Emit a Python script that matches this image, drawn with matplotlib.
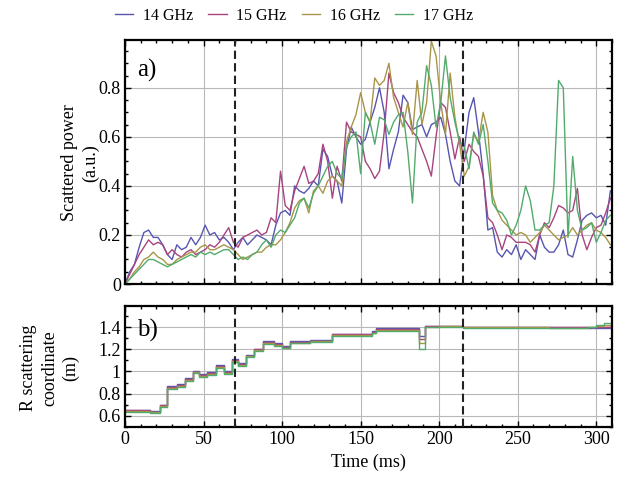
import numpy as np
import matplotlib
matplotlib.use("Agg")
import matplotlib.pyplot as plt
from matplotlib.ticker import MultipleLocator, FuncFormatter

plt.rcParams["font.family"] = ["Liberation Serif", "DejaVu Serif"]
plt.rcParams["mathtext.fontset"] = "stix"

# ---- data -----------------------------------------------------------------
labels = ["14 GHz", "15 GHz", "16 GHz", "17 GHz"]
colors = ["#5656B2", "#A8437F", "#A89548", "#52AB6C"]

# scattered power, sampled every 3 ms (0 .. 309 ms)
time_power = np.arange(0, 310, 3)

power_14 = [
    0.00, 0.05, 0.08, 0.15, 0.21, 0.22, 0.19, 0.19, 0.16, 0.12,
    0.10, 0.16, 0.14, 0.15, 0.19, 0.16, 0.19, 0.24, 0.20, 0.21,
    0.18, 0.19, 0.17, 0.14, 0.17, 0.19, 0.16, 0.18, 0.20, 0.19,
    0.18, 0.16, 0.24, 0.29, 0.30, 0.28, 0.40, 0.38, 0.37, 0.39,
    0.42, 0.40, 0.55, 0.52, 0.44, 0.42, 0.33, 0.55, 0.64, 0.60,
    0.57, 0.59, 0.66, 0.72, 0.80, 0.70, 0.47, 0.55, 0.62, 0.77,
    0.74, 0.63, 0.64, 0.65, 0.60, 0.65, 0.66, 0.68, 0.61, 0.50,
    0.42, 0.40, 0.55, 0.70, 0.76, 0.62, 0.45, 0.22, 0.23, 0.13,
    0.11, 0.14, 0.12, 0.16, 0.10, 0.14, 0.12, 0.10, 0.20, 0.15,
    0.13, 0.13, 0.16, 0.22, 0.12, 0.11, 0.18, 0.26, 0.28, 0.29,
    0.27, 0.28, 0.24, 0.38,
]
power_15 = [
    0.00, 0.04, 0.08, 0.12, 0.15, 0.18, 0.16, 0.17, 0.16, 0.12,
    0.14, 0.12, 0.11, 0.13, 0.14, 0.12, 0.13, 0.14, 0.16, 0.15,
    0.17, 0.20, 0.23, 0.17, 0.15, 0.19, 0.20, 0.21, 0.22, 0.20,
    0.21, 0.27, 0.25, 0.46, 0.32, 0.30, 0.38, 0.43, 0.48, 0.41,
    0.42, 0.45, 0.57, 0.50, 0.35, 0.48, 0.42, 0.66, 0.62, 0.61,
    0.60, 0.50, 0.47, 0.43, 0.46, 0.62, 0.86, 0.78, 0.74, 0.68,
    0.65, 0.62, 0.60, 0.55, 0.50, 0.44, 0.60, 0.74, 0.72, 0.62,
    0.51, 0.60, 0.50, 0.57, 0.54, 0.52, 0.44, 0.27, 0.25, 0.20,
    0.14, 0.20, 0.19, 0.17, 0.17, 0.17, 0.16, 0.13, 0.20, 0.25,
    0.23, 0.27, 0.32, 0.31, 0.29, 0.30, 0.39, 0.20, 0.14, 0.19,
    0.23, 0.24, 0.29, 0.35,
]
power_16 = [
    0.00, 0.02, 0.05, 0.07, 0.10, 0.11, 0.13, 0.11, 0.10, 0.08,
    0.08, 0.10, 0.11, 0.12, 0.13, 0.13, 0.15, 0.16, 0.14, 0.14,
    0.15, 0.16, 0.15, 0.14, 0.12, 0.10, 0.11, 0.12, 0.13, 0.13,
    0.15, 0.16, 0.16, 0.18, 0.21, 0.25, 0.31, 0.34, 0.35, 0.29,
    0.38, 0.40, 0.37, 0.42, 0.44, 0.42, 0.40, 0.58, 0.64, 0.69,
    0.78, 0.70, 0.66, 0.84, 0.81, 0.83, 0.90, 0.76, 0.70, 0.64,
    0.74, 0.61, 0.83, 0.65, 0.74, 0.99, 0.93, 0.74, 0.61, 0.86,
    0.68, 0.57, 0.44, 0.48, 0.61, 0.58, 0.70, 0.62, 0.36, 0.30,
    0.26, 0.24, 0.22, 0.20, 0.21, 0.20, 0.17, 0.19, 0.21, 0.24,
    0.22, 0.20, 0.18, 0.19, 0.20, 0.23, 0.20, 0.22, 0.24, 0.25,
    0.22, 0.21, 0.19, 0.16,
]
power_17 = [
    0.00, 0.02, 0.04, 0.06, 0.08, 0.10, 0.10, 0.09, 0.08, 0.07,
    0.08, 0.09, 0.10, 0.11, 0.12, 0.11, 0.13, 0.12, 0.13, 0.12,
    0.13, 0.14, 0.14, 0.12, 0.10, 0.11, 0.10, 0.12, 0.13, 0.16,
    0.18, 0.15, 0.20, 0.22, 0.21, 0.24, 0.27, 0.33, 0.35, 0.31,
    0.37, 0.40, 0.44, 0.48, 0.50, 0.45, 0.43, 0.56, 0.60, 0.62,
    0.45, 0.70, 0.66, 0.57, 0.68, 0.67, 0.61, 0.66, 0.69, 0.70,
    0.54, 0.33, 0.66, 0.70, 0.89, 0.81, 0.64, 0.74, 0.93, 0.76,
    0.66, 0.58, 0.56, 0.47, 0.62, 0.57, 0.65, 0.50, 0.33, 0.30,
    0.29, 0.26, 0.20, 0.24, 0.30, 0.40, 0.34, 0.22, 0.22, 0.24,
    0.25, 0.40, 0.83, 0.80, 0.19, 0.52, 0.30, 0.22, 0.23, 0.25,
    0.17, 0.21, 0.26, 0.28,
]

# R scattering coordinate: step breakpoints (ms) and levels (m)
time_r = [0, 16, 22, 27, 33, 38, 43, 47, 52, 58, 63, 68, 72, 77, 82, 88, 95,
          100, 105, 118, 132, 157, 160, 187, 191, 200, 215, 270, 295, 300,
          305, 310]
r_14 = [0.657, 0.647, 0.702, 0.867, 0.887, 0.942, 1.007, 0.977, 0.992,
        1.057, 1.002, 1.112, 1.072, 1.152, 1.207, 1.272, 1.257, 1.232,
        1.277, 1.287, 1.342, 1.367, 1.392, 1.320, 1.412, 1.412, 1.405,
        1.400, 1.395, 1.392, 1.390, 1.390]
r_15 = [0.649, 0.639, 0.694, 0.859, 0.879, 0.934, 0.999, 0.969, 0.984,
        1.049, 0.994, 1.104, 1.064, 1.144, 1.199, 1.264, 1.249, 1.224,
        1.269, 1.279, 1.334, 1.359, 1.384, 1.290, 1.408, 1.410, 1.402,
        1.398, 1.398, 1.400, 1.405, 1.410]
r_16 = [0.641, 0.631, 0.686, 0.851, 0.871, 0.926, 0.991, 0.961, 0.976,
        1.041, 0.986, 1.096, 1.056, 1.136, 1.191, 1.256, 1.241, 1.216,
        1.261, 1.271, 1.326, 1.351, 1.376, 1.255, 1.404, 1.406, 1.398,
        1.395, 1.400, 1.410, 1.420, 1.430]
r_17 = [0.633, 0.623, 0.678, 0.843, 0.863, 0.918, 0.983, 0.953, 0.968,
        1.033, 0.978, 1.088, 1.048, 1.128, 1.183, 1.248, 1.233, 1.208,
        1.253, 1.263, 1.318, 1.343, 1.368, 1.200, 1.400, 1.402, 1.395,
        1.392, 1.405, 1.420, 1.435, 1.450]

event_times = [70, 215]

power_series = [power_14, power_15, power_16, power_17]
r_series = [r_14, r_15, r_16, r_17]

# ---- figure ---------------------------------------------------------------
fig = plt.figure(figsize=(6.26, 4.87), dpi=100)
ax1 = fig.add_axes([0.1997, 0.4168, 0.7779, 0.5011])
ax2 = fig.add_axes([0.1997, 0.1232, 0.7779, 0.2485])

fmt = FuncFormatter(lambda v, p: "%g" % round(v, 2))

for ax in (ax1, ax2):
    ax.set_xlim(0, 310)
    ax.grid(True, color="#b8b8b8", lw=0.8)
    ax.set_axisbelow(True)
    ax.xaxis.set_major_locator(MultipleLocator(50))
    ax.xaxis.set_minor_locator(MultipleLocator(10))
    ax.tick_params(which="both", direction="in", top=True, right=True,
                   labelsize=13, pad=3)
    ax.tick_params(which="major", length=4, width=1.0)
    ax.tick_params(which="minor", length=2.5, width=1.0)
    for s in ax.spines.values():
        s.set_linewidth(1.6)
    ax.yaxis.set_major_formatter(fmt)
    for t in event_times:
        ax.axvline(t, color="#222222", lw=1.5, ls=(0, (4, 2)), zorder=5)

for vals, c, lab in zip(power_series, colors, labels):
    ax1.plot(time_power, vals, color=c, lw=1.0, label=lab)
ax1.set_ylim(0, 0.995)
ax1.yaxis.set_major_locator(MultipleLocator(0.2))
ax1.yaxis.set_minor_locator(MultipleLocator(0.05))
ax1.tick_params(labelbottom=False)
ax1.text(0.025, 0.875, "a)", transform=ax1.transAxes, fontsize=18,
         va="center", ha="left")

for vals, c in zip(r_series, colors):
    ax2.plot(time_r, vals, color=c, lw=1.0, drawstyle="steps-post")
ax2.set_ylim(0.5, 1.59)
ax2.yaxis.set_major_locator(MultipleLocator(0.2))
ax2.yaxis.set_minor_locator(MultipleLocator(0.1))
ax2.xaxis.set_major_formatter(fmt)
ax2.text(0.025, 0.80, "b)", transform=ax2.transAxes, fontsize=18,
         va="center", ha="left")
ax2.set_xlabel("Time (ms)", fontsize=13, labelpad=4)

fig.text(80 / 626, 1 - 163 / 487, "Scattered power\n(a.u.)", rotation=90,
         ha="center", va="center", fontsize=13, linespacing=1.3)
fig.text(50 / 626, 1 - 368 / 487, "R scattering\ncoordinate\n(m)",
         rotation=90, ha="center", va="center", fontsize=13, linespacing=1.3)

fig.legend(loc="center", bbox_to_anchor=(294 / 626, 1 - 16 / 487), ncol=4,
           frameon=False, fontsize=11.5, handlelength=1.15, handletextpad=0.6,
           columnspacing=0.95)

fig.savefig("out.png", dpi=100)
